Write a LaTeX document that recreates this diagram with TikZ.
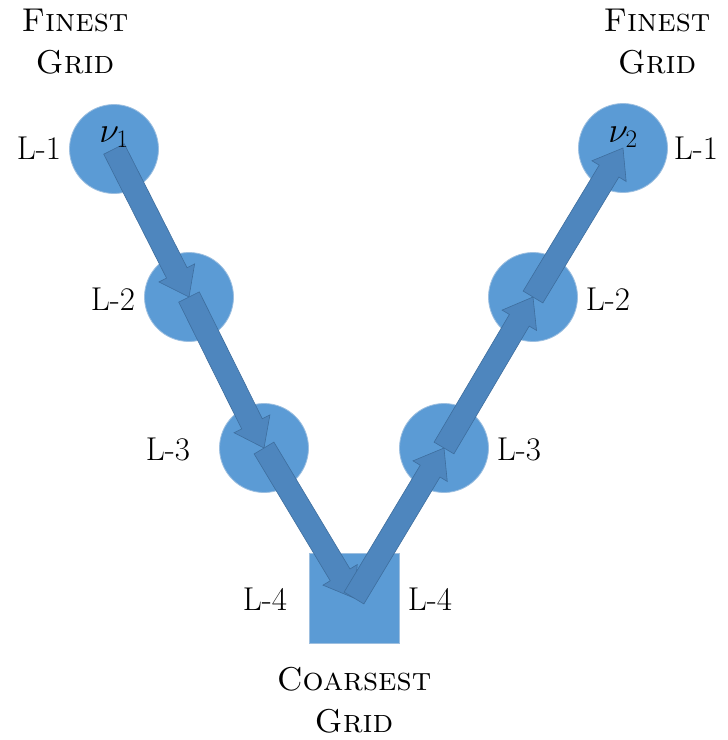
\documentclass[tikz,border=0pt]{standalone}
\usepackage{fix-cm}
\usetikzlibrary{calc}
\definecolor{gridblue}{HTML}{5B9BD5}
\definecolor{gridedge}{HTML}{9DBFE0}
\definecolor{arrowfill}{HTML}{4E86BE}
\definecolor{arrowedge}{HTML}{3E6E9E}
\tikzset{
  gridpt/.style={circle, fill=gridblue, draw=gridedge, line width=0.8pt, minimum size=89pt, inner sep=0pt},
  coarse/.style={rectangle, fill=gridblue, draw=gridedge, line width=0.8pt, minimum size=90pt, inner sep=0pt},
  lbl/.style={font=\fontsize{33}{40}\selectfont, inner sep=0pt},
  nulbl/.style={font=\fontsize{36}{40}\selectfont, inner sep=0pt},
  title/.style={font=\fontsize{33}{42}\selectfont\scshape, align=center, inner sep=0pt},
  blockarr/.style={fill=arrowfill, draw=arrowedge, line width=0.6pt, line join=miter},
}
% block arrow from the centre of node #1 to the centre of node #2
\newcommand\blockarrow[2]{%
  \coordinate (tl) at (#1.center);
  \coordinate (tp) at (#2.center);
  \coordinate (nk) at ($(tp)!27pt!(tl)$);
  \draw[blockarr]
    ($(tl)!11.5pt!90:(tp)$) -- ($(nk)!11.5pt!90:(tp)$) -- ($(nk)!20pt!90:(tp)$)
    -- (tp) --
    ($(nk)!20pt!-90:(tp)$) -- ($(nk)!11.5pt!-90:(tp)$) -- ($(tl)!11.5pt!-90:(tp)$) -- cycle;
}
\begin{document}
\begin{tikzpicture}[x=1pt,y=-1pt]
\useasboundingbox (0,0) rectangle (728,740);

% grid levels
\node[gridpt] (c1) at (114,149) {};
\node[gridpt] (c2) at (189,297) {};
\node[gridpt] (c3) at (264,448) {};
\node[coarse] (sq) at (354,598) {};
\node[gridpt] (c4) at (444,448) {};
\node[gridpt] (c5) at (533,297) {};
\node[gridpt] (c6) at (623,148) {};

% restriction and prolongation arrows
\blockarrow{c1}{c2}
\blockarrow{c2}{c3}
\blockarrow{c3}{sq}
\blockarrow{sq}{c4}
\blockarrow{c4}{c5}
\blockarrow{c5}{c6}

% smoothing counts
\node[nulbl] (nu1) at (114,137) {$\nu_1$};
\node[nulbl] (nu2) at (623,137) {$\nu_2$};

% level labels
\node[lbl] (l1a) at (39,148) {L-1};
\node[lbl] (l2a) at (113,299) {L-2};
\node[lbl] (l3a) at (168,449) {L-3};
\node[lbl] (l4a) at (265,599) {L-4};
\node[lbl] (l4b) at (430,599) {L-4};
\node[lbl] (l3b) at (519,449) {L-3};
\node[lbl] (l2b) at (608,299) {L-2};
\node[lbl] (l1b) at (696,148) {L-1};

% titles
\node[title] (fineL) at (75,42) {Finest\\Grid};
\node[title] (fineR) at (657,42) {Finest\\Grid};
\node[title] (coarseT) at (354,700) {Coarsest\\Grid};
\end{tikzpicture}
\end{document}
